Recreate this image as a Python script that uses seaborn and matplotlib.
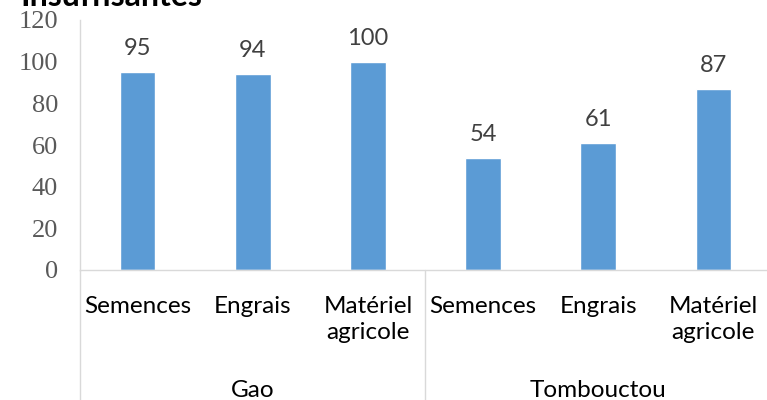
import matplotlib
matplotlib.use("Agg")
import matplotlib.pyplot as plt
import matplotlib.transforms as mtransforms
import seaborn as sns
import pandas as pd

regions = ["Gao", "Gao", "Gao", "Tombouctou", "Tombouctou", "Tombouctou"]
categories = ["Semences", "Engrais", "Matériel\nagricole", "Semences", "Engrais", "Matériel\nagricole"]
values = [95, 94, 100, 54, 61, 87]
group_names = ["Gao", "Tombouctou"]
title = "Insuffisantes"

sns.set_theme(style="white")
plt.rcParams["font.family"] = ["Lato", "DejaVu Sans"]

df = pd.DataFrame({"pos": [f"{r}|{c}|{i}" for i, (r, c) in enumerate(zip(regions, categories))],
                   "value": values})

W, H = 767, 400
fig = plt.figure(figsize=(W / 100, H / 100), dpi=100)
ax = fig.add_axes([80 / W, 130 / H, 691 / W, 250 / H])

sns.barplot(data=df, x="pos", y="value", color="#5B9BD5", width=0.31,
            saturation=1, ax=ax, order=df["pos"].tolist())

ax.set_xlim(-0.5, len(values) - 0.5)
ax.set_ylim(0, 120)
ax.set_yticks(range(0, 121, 20))
ax.set_xlabel("")
ax.set_ylabel("")
ax.set_xticks([])

for s in ["top", "right"]:
    ax.spines[s].set_visible(False)
for s in ["left", "bottom"]:
    ax.spines[s].set_color("#D9D9D9")
    ax.spines[s].set_linewidth(1.0)

ax.tick_params(axis="y", direction="out", length=5.8, width=1.0, color="#D9D9D9",
               pad=10.0, labelsize=19, labelcolor="#595959")
for lab in ax.get_yticklabels():
    lab.set_family(["Liberation Serif"])

# data labels
for i, v in enumerate(values):
    ax.annotate(str(v), xy=(i, v), xytext=(0, 12.2), textcoords="offset points",
                ha="center", va="baseline", fontsize=17, color="#404040")

# category labels
trans = mtransforms.blended_transform_factory(ax.transData, ax.transAxes)
for i, c in enumerate(categories):
    ax.text(i, -26 / 250, c, transform=trans, ha="center", va="top",
            fontsize=17.5, color="#000000", linespacing=1.3)

# group labels
for g, name in enumerate(group_names):
    ax.text(g * 3 + 1, -127 / 250, name, transform=trans, ha="center", va="baseline",
            fontsize=17.5, color="#000000")

# separators
for x in [-0.5, 2.5, 5.5]:
    ax.plot([x, x], [0, -0.55], transform=trans, color="#D9D9D9", lw=1.0, clip_on=False)

fig.text(20 / W, 1 - 6 / H, title, ha="left", va="baseline", fontsize=23,
         fontweight="bold", color="#000000")

fig.savefig("out.png", dpi=100)
